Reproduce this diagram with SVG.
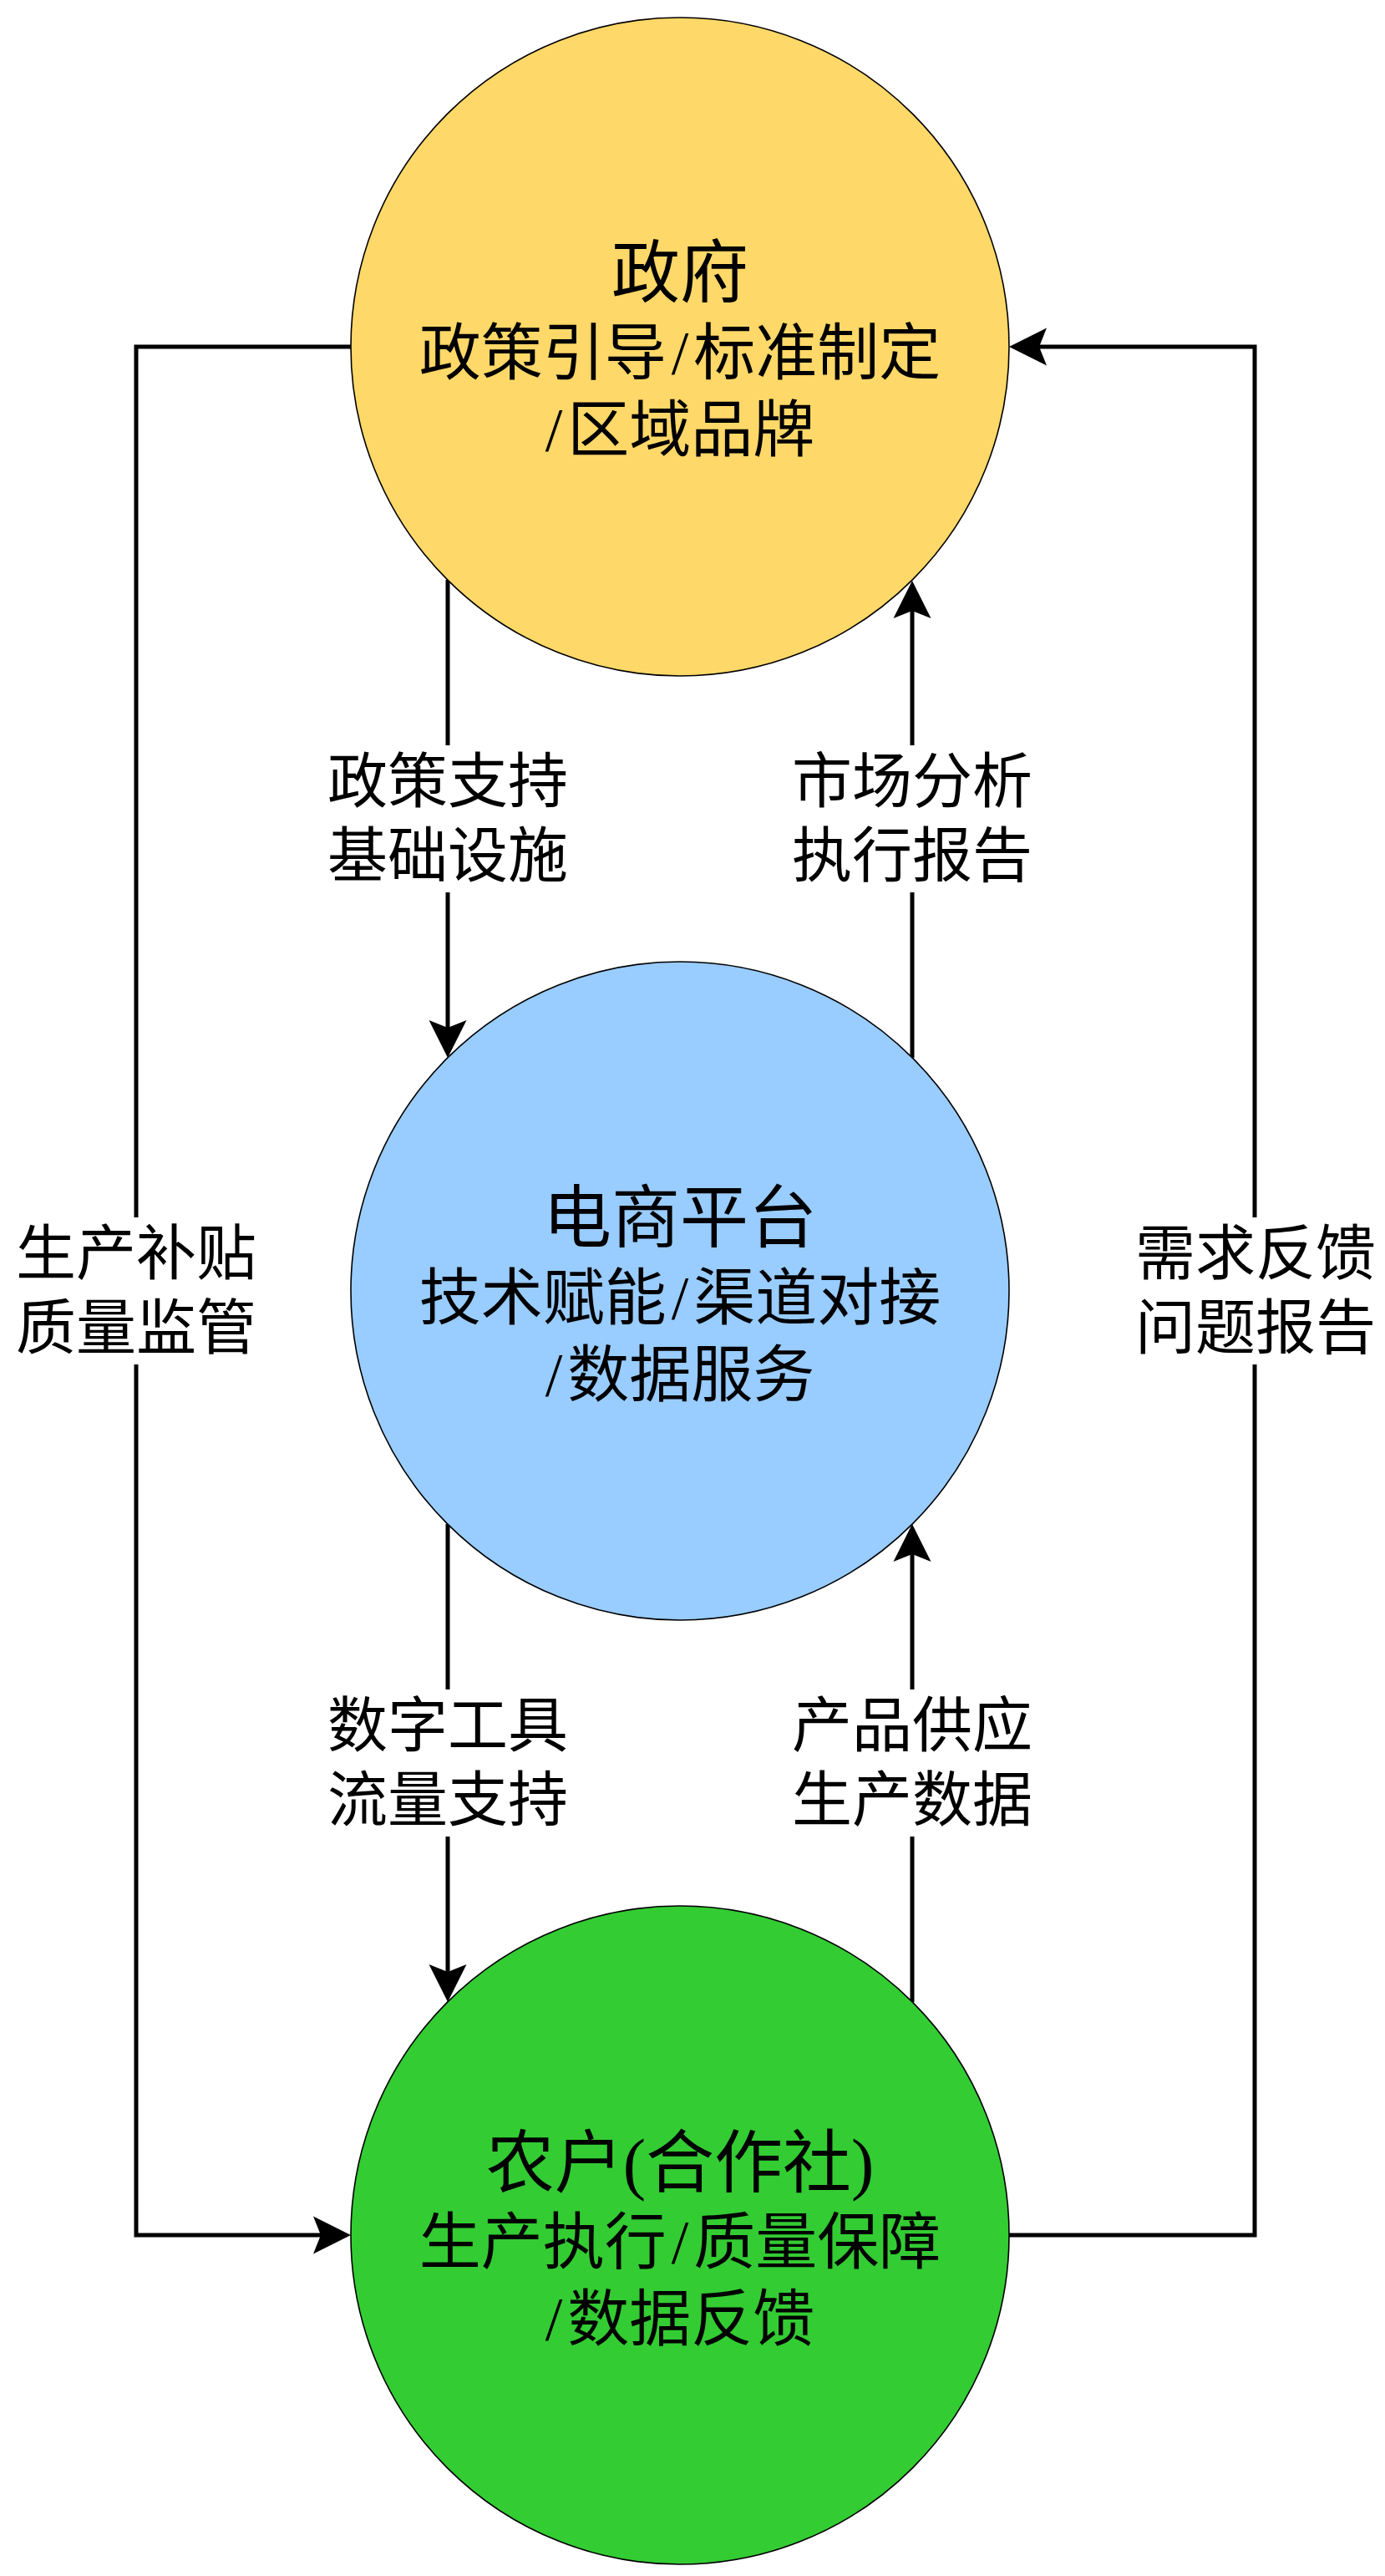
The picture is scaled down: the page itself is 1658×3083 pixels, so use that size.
<svg xmlns="http://www.w3.org/2000/svg" width="1658" height="3083" viewBox="0 0 1658 3083">
  <style>
    .node { stroke: #000000; stroke-width: 1.6; }
    .title { font-family: "Liberation Serif", "Noto Sans CJK SC", serif; font-size: 82px; fill: #000000; text-anchor: middle; }
    .sub { font-family: "Liberation Serif", "Noto Sans CJK SC", serif; font-size: 74px; fill: #000000; text-anchor: middle; }
    .lbl { font-family: "Liberation Serif", "Noto Sans CJK SC", serif; font-size: 72px; fill: #000000; text-anchor: middle; }
    .conn { fill: none; stroke: #000000; stroke-width: 5; marker-end: url(#arrow); }
  </style>
  <defs>
    <marker id="arrow" markerUnits="userSpaceOnUse" markerWidth="60" markerHeight="60" refX="0" refY="0" orient="auto" overflow="visible">
      <path d="M -9 -22.5 L 36 0 L -9 22.5 L 0 0 Z" fill="#000000"/>
    </marker>
  </defs>
  <rect x="0" y="0" width="1658" height="3083" fill="#ffffff"/>

  <g id="connectors">
    <path class="conn" d="M 420 415 L 163 415 L 163 1457 M 163 1633 L 163 2675 L 384 2675"/>
    <path class="conn" d="M 1208 2675 L 1502 2675 L 1502 1633 M 1502 1457 L 1502 415 L 1244 415"/>
    <path class="conn" d="M 536 694 L 536 892 M 536 1068 L 536 1230"/>
    <path class="conn" d="M 1092 1266 L 1092 1068 M 1092 892 L 1092 731"/>
    <path class="conn" d="M 536 1824 L 536 2022 M 536 2198 L 536 2360"/>
    <path class="conn" d="M 1092 2396 L 1092 2198 M 1092 2022 L 1092 1860"/>
    <text class="lbl" x="536" y="960">政策支持</text>
    <text class="lbl" x="536" y="1049">基础设施</text>
    <text class="lbl" x="1092" y="960">市场分析</text>
    <text class="lbl" x="1092" y="1049">执行报告</text>
    <text class="lbl" x="536" y="2090">数字工具</text>
    <text class="lbl" x="536" y="2179">流量支持</text>
    <text class="lbl" x="1092" y="2090">产品供应</text>
    <text class="lbl" x="1092" y="2179">生产数据</text>
    <text class="lbl" x="163" y="1525">生产补贴</text>
    <text class="lbl" x="163" y="1614">质量监管</text>
    <text class="lbl" x="1503" y="1525">需求反馈</text>
    <text class="lbl" x="1503" y="1614">问题报告</text>
  </g>

  <g id="node-government">
    <circle class="node" cx="814" cy="415" r="394" fill="#FED868"/>
    <text class="title" x="814" y="355">政府</text>
    <text class="sub" x="814" y="448">政策引导<tspan dx="6">/</tspan><tspan dx="6">标准制定</tspan></text>
    <text class="sub" x="814" y="540">/<tspan dx="6">区域品牌</tspan></text>
  </g>

  <g id="node-platform">
    <circle class="node" cx="814" cy="1545" r="394" fill="#99CCFF"/>
    <text class="title" x="814" y="1486">电商平台</text>
    <text class="sub" x="814" y="1579">技术赋能<tspan dx="6">/</tspan><tspan dx="6">渠道对接</tspan></text>
    <text class="sub" x="814" y="1671">/<tspan dx="6">数据服务</tspan></text>
  </g>

  <g id="node-farmers">
    <circle class="node" cx="814" cy="2675" r="394" fill="#33CC33"/>
    <text class="title" x="814" y="2617">农户(合作社)</text>
    <text class="sub" x="814" y="2709">生产执行<tspan dx="6">/</tspan><tspan dx="6">质量保障</tspan></text>
    <text class="sub" x="814" y="2801">/<tspan dx="6">数据反馈</tspan></text>
  </g>
</svg>
